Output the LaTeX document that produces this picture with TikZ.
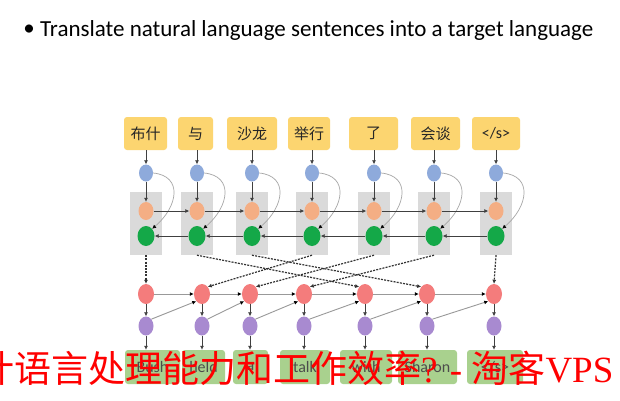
\documentclass[tikz,border=0pt]{standalone}
\usepackage{fontspec}
\setmainfont{Carlito}
\newfontfamily\cjk{Noto Sans CJK SC}
\newfontfamily\wmserif{Liberation Serif}
\usetikzlibrary{arrows.meta,shapes.geometric}
\definecolor{wy}{HTML}{FCD570}
\definecolor{nb}{HTML}{8EAADB}
\definecolor{no}{HTML}{F4AE84}
\definecolor{ng}{HTML}{14A848}
\definecolor{nr}{HTML}{F47C7C}
\definecolor{np}{HTML}{A88AD0}
\definecolor{bg}{HTML}{A9D18E}
\definecolor{gbox}{HTML}{DADADA}
\begin{document}
\begin{tikzpicture}[x=1pt,y=-1pt,
  wordbox/.style={rounded corners=3pt, fill=wy, inner sep=0pt, minimum height=33pt, font=\cjk\fontsize{15}{15}\selectfont, text=black!85},
  outbox/.style={rounded corners=3pt, fill=bg, inner sep=0pt, minimum height=34pt, font=\fontsize{16}{16}\selectfont, text=black!70},
  nd/.style={ellipse, inner sep=0pt, minimum width=15pt, minimum height=18pt},
  gbx/.style={fill=gbox, inner sep=0pt, minimum width=32pt, minimum height=63pt},
  arr/.style={-{Latex[length=4pt,width=4pt]}, line width=0.7pt, draw=black!75},
  garr/.style={-{Latex[length=4pt,width=4pt,color=black]}, line width=0.9pt, draw=black!40},
  carr/.style={-{Latex[length=4pt,width=4pt,color=black]}, line width=0.7pt, draw=black!35},
  darr/.style={-{Latex[length=4pt,width=4pt]}, line width=1.2pt, draw=black!80, dash pattern=on 2pt off 1.2pt}
]
\useasboundingbox (0,0) rectangle (620,400);
\fill[white] (0,0) rectangle (620,400);

% title
\node[font=\fontsize{23}{26}\selectfont, inner sep=0pt] (bul) at (29,30) {•};
\node[anchor=west, font=\fontsize{23}{26}\selectfont, inner sep=0pt, text=black] (title) at (40,30) {Translate natural language sentences into a target language};

% gray boxes (encoder)
\foreach \i/\x in {1/146,2/197,3/252,4/312,5/374,6/434,7/496}{
  \node[gbx] (gb\i) at (\x,223.5) {};
}

% source words
\node[wordbox, minimum width=43pt] (w1) at (145.5,133.5) {布什};
\node[wordbox, minimum width=35pt] (w2) at (195.5,133.5) {与};
\node[wordbox, minimum width=50pt] (w3) at (252,133.5) {沙龙};
\node[wordbox, minimum width=42pt] (w4) at (309,133.5) {举行};
\node[wordbox, minimum width=49pt] (w5) at (373.5,133.5) {了};
\node[wordbox, minimum width=49pt] (w6) at (435.5,133.5) {会谈};
\node[wordbox, minimum width=48pt, font=\fontsize{16}{16}\selectfont] (w7) at (496,133.5) {</s>};

% encoder nodes
\foreach \i/\x in {1/146,2/197,3/252,4/312,5/374,6/434,7/496}{
  \node[nd, fill=nb, minimum width=14pt, minimum height=17pt] (bl\i) at (\x,173) {};
  \node[nd, fill=no, minimum width=15pt, minimum height=18pt] (o\i) at (\x,211) {};
  \node[nd, fill=ng, minimum width=17pt, minimum height=20pt] (g\i) at (\x,236) {};
  \draw[arr] (w\i.south -| bl\i) -- (bl\i.north);
  \draw[arr] (bl\i.south) -- (o\i.north);
  \draw[carr] (bl\i.east) .. controls +(30,3) and +(26,-22) .. (g\i.north east);
}
\foreach \i/\j in {1/2,2/3,3/4,4/5,5/6,6/7}{
  \draw[arr] (o\i.east) -- (o\j.west);
  \draw[arr] (g\j.west) -- (g\i.east);
}

% decoder nodes
\foreach \i/\x in {1/146,2/202,3/250,4/304,5/365,6/427,7/494}{
  \node[nd, fill=nr, minimum width=16pt, minimum height=20pt] (r\i) at (\x,294) {};
  \node[nd, fill=np, minimum width=15pt, minimum height=19pt] (p\i) at (\x,326) {};
  \draw[arr] (r\i.south) -- (p\i.north);
}
\foreach \i/\j in {1/2,2/3,3/4,4/5,5/6,6/7}{
  \draw[garr] (r\i.east) -- (r\j.west);
  \draw[garr] (p\i.north east) -- (r\j.south west);
}

% target words
\node[outbox, minimum width=55pt] (t1) at (152.5,367) {Bush};
\node[outbox, minimum width=43pt] (t2) at (203.5,367) {held};
\node[outbox, minimum width=35pt] (t3) at (250.5,367) {a};
\node[outbox, minimum width=50pt] (t4) at (305,367) {talk};
\node[outbox, minimum width=52pt] (t5) at (366,367) {with};
\node[outbox, minimum width=59pt] (t6) at (427.5,367) {Sharon};
\node[outbox, minimum width=56pt] (t7) at (495,367) {</s>};
\foreach \i in {1,...,7}{
  \draw[arr] (p\i.south) -- (p\i.south |- t\i.north);
}

% attention (dashed)
\draw[darr] (gb1.south) -- (r1.north);
\draw[darr] (gb7.south) -- (r7.north);
\draw[darr] (gb4.south) -- (r2.north east);
\draw[darr] (gb5.south) -- (r3.north east);
\draw[darr] (gb6.south) -- (r4.north east);
\draw[darr] (gb2.south) -- (r5.north west);
\draw[darr] (gb3.south) -- (r6.north west);

% overlay text
\node[anchor=west, inner sep=0pt, text=red, font=\cjk\fontsize{37}{37}\selectfont] (wm) at (-23,368) {计语言处理能力和工作效率{\wmserif ? - }淘客{\wmserif VPS}};
\end{tikzpicture}
\end{document}
